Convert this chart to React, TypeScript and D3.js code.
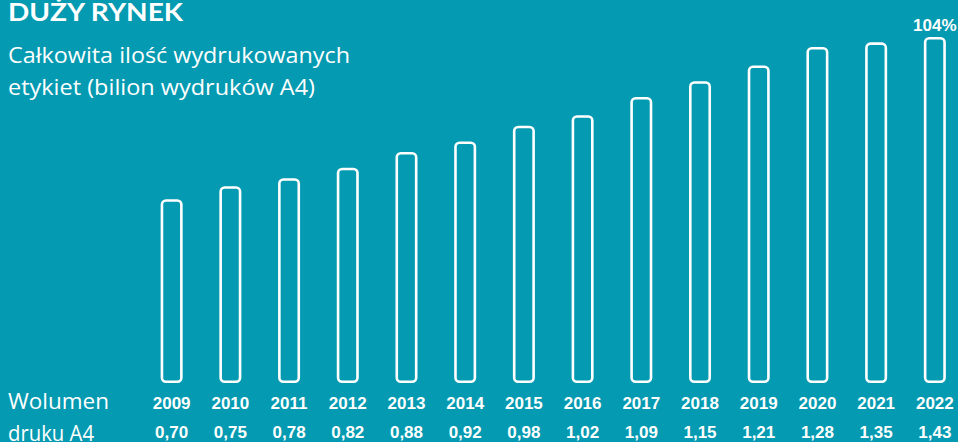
import React, { useEffect, useRef } from "react";
import * as d3 from "d3";

// Data
const years = ["2009", "2010", "2011", "2012", "2013", "2014", "2015", "2016", "2017", "2018", "2019", "2020", "2021", "2022"];
const volumes = [0.7, 0.75, 0.78, 0.82, 0.88, 0.92, 0.98, 1.02, 1.09, 1.15, 1.21, 1.28, 1.35, 1.43];
const growthLabel = "104%";
const titleLines = ["Całkowita ilość wydrukowanych", "etykiet (bilion wydruków A4)"];
const rowLabels = ["Wolumen", "druku A4"];

const W = 958;
const H = 442;
const BG = "#049ab1";

const App: React.FC = () => {
  const ref = useRef<SVGSVGElement>(null);

  useEffect(() => {
    document.body.style.margin = "0";
    if (!ref.current) return;
    const svg = d3.select(ref.current);
    svg.selectAll("*").remove();

    svg.append("rect").attr("width", W).attr("height", H).attr("fill", BG);

    const x = d3.scaleBand<string>().domain(years).range([142.3, 964.2]).paddingInner(0.625).paddingOuter(0.3125);
    // the original compresses the last bars a bit, hence a piecewise scale
    const y = d3.scaleLinear().domain([0, 1.28, 1.43]).range([383, 47, 37]);

    const sw = 2.6;
    const fmt = d3.formatLocale({ decimal: ",", thousands: " ", grouping: [3], currency: ["", ""] }).format(".2f");

    const bars = svg.append("g");
    years.forEach((yr, i) => {
      const x0 = x(yr)!;
      bars
        .append("rect")
        .attr("x", x0 + sw / 2)
        .attr("y", y(volumes[i]) + sw / 2)
        .attr("width", x.bandwidth() - sw)
        .attr("height", y(0) - y(volumes[i]) - sw)
        .attr("rx", 4)
        .attr("fill", "none")
        .attr("stroke", "#fff")
        .attr("stroke-width", sw);
    });

    const bold = "'Liberation Sans', Arial, sans-serif";
    const labels = svg.append("g").attr("fill", "#fff").attr("font-family", bold).attr("font-weight", "bold").attr("font-size", 17).attr("text-anchor", "middle");
    years.forEach((yr, i) => {
      const cx = x(yr)! + x.bandwidth() / 2;
      labels.append("text").attr("x", cx).attr("y", 408.5).text(yr);
      labels.append("text").attr("x", cx).attr("y", 438).text(fmt(volumes[i]));
    });

    const last = years[years.length - 1];
    labels
      .append("text")
      .attr("x", x(last)! + x.bandwidth() / 2)
      .attr("y", 30.5)
      .text(growthLabel);

    const sans = "'Open Sans', Lato, sans-serif";
    svg
      .append("text")
      .attr("x", 8)
      .attr("y", 20.5)
      .attr("fill", "#fff")
      .attr("font-family", "Lato, sans-serif")
      .attr("font-weight", "bold")
      .attr("font-size", 25)
      .attr("textLength", 175)
      .attr("lengthAdjust", "spacingAndGlyphs")
      .text("DUŻY RYNEK");

    const lineLens = [342, 307];
    titleLines.forEach((t, i) => {
      svg
        .append("text")
        .attr("x", 8)
        .attr("y", 62.5 + i * 32.5)
        .attr("fill", "#fff")
        .attr("font-family", sans)
        .attr("font-size", 22)
        .attr("textLength", lineLens[i])
        .attr("lengthAdjust", "spacingAndGlyphs")
        .text(t);
    });

    const rowLens = [101, 86];
    rowLabels.forEach((t, i) => {
      svg
        .append("text")
        .attr("x", 8)
        .attr("y", 409 + i * 32)
        .attr("fill", "#fff")
        .attr("font-family", sans)
        .attr("font-size", 22)
        .attr("textLength", rowLens[i])
        .attr("lengthAdjust", "spacingAndGlyphs")
        .text(t);
    });
  }, []);

  return <svg ref={ref} width={W} height={H} style={{ display: "block" }} />;
};

export default App;
